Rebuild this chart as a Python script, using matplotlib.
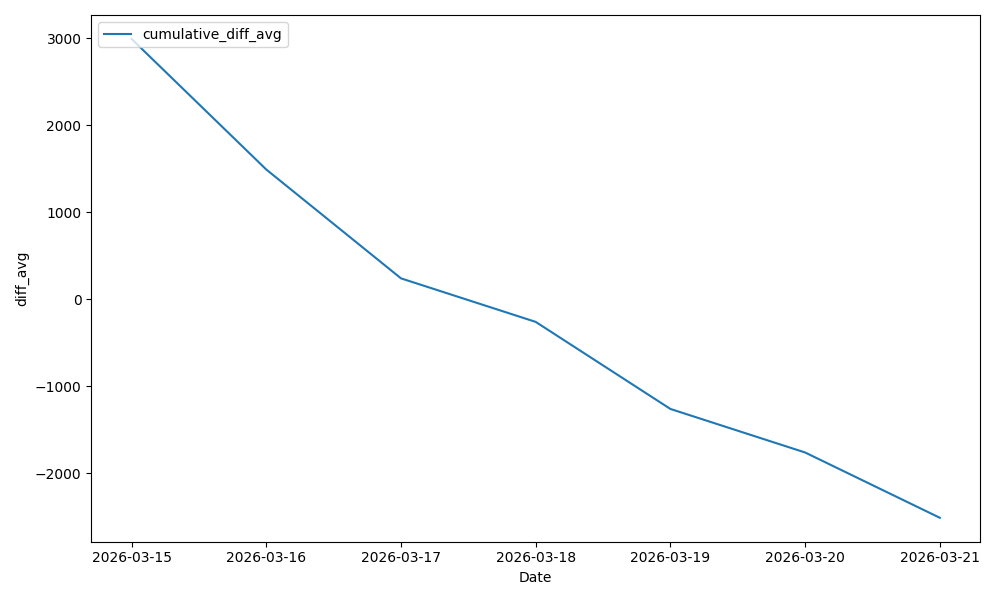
import matplotlib
matplotlib.use("Agg")
import matplotlib.pyplot as plt
import pandas as pd

dates = ["2026-03-15", "2026-03-16", "2026-03-17", "2026-03-18", "2026-03-19", "2026-03-20", "2026-03-21"]
cumulative_diff_avg = [2990, 1490, 240, -260, -1260, -1760, -2510]

x = pd.to_datetime(dates)
fig, ax = plt.subplots(figsize=(10, 6), dpi=100)
ax.plot(x, cumulative_diff_avg, label="cumulative_diff_avg")
ax.set_xlabel("Date")
ax.set_ylabel("diff_avg")
ax.set_xticks(x)
ax.set_xticklabels(dates)
ax.legend(loc="upper left")
fig.tight_layout()
fig.savefig("out.png")
